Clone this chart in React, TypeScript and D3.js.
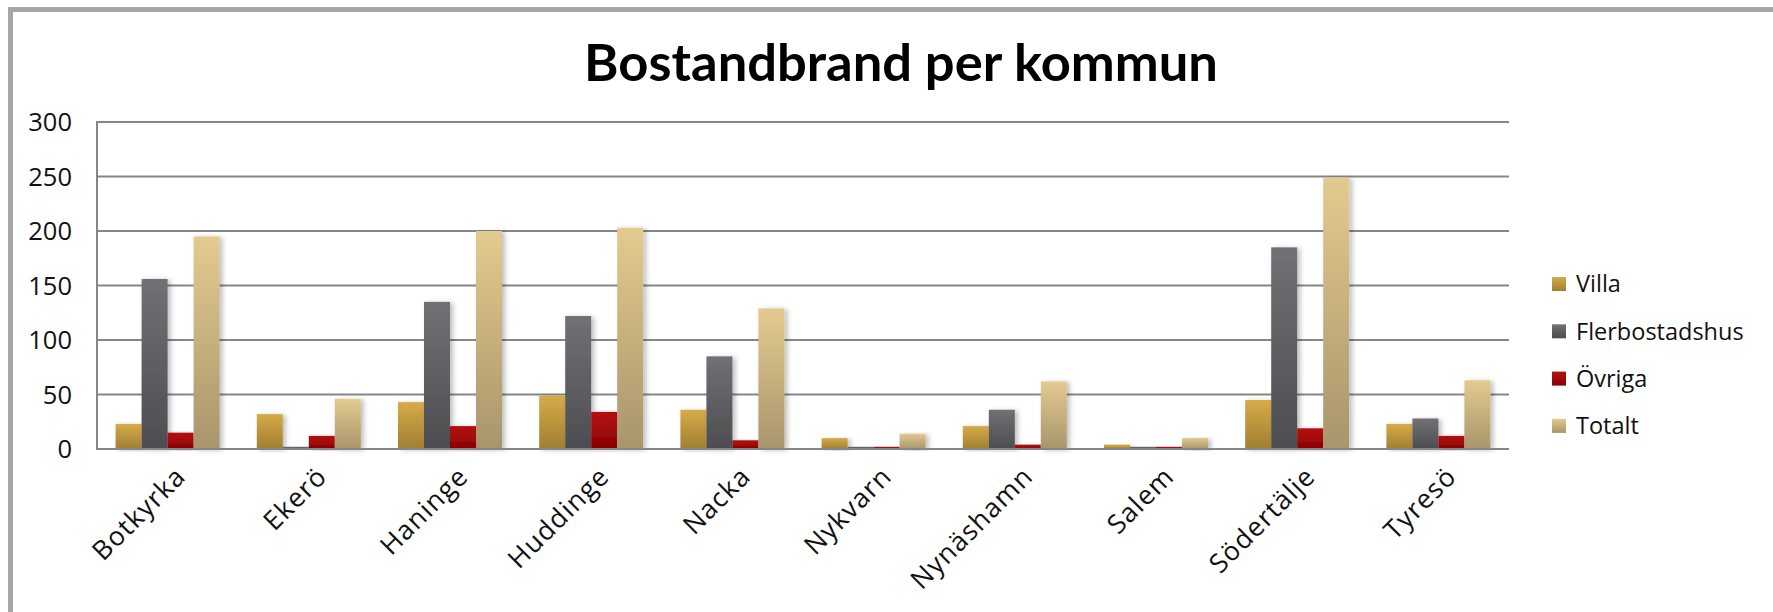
import React from "react";
import * as d3 from "d3";

const categories = ["Botkyrka", "Ekerö", "Haninge", "Huddinge", "Nacka", "Nykvarn", "Nynäshamn", "Salem", "Södertälje", "Tyresö"];
const seriesNames = ["Villa", "Flerbostadshus", "Övriga", "Totalt"];
const villa = [23, 32, 43, 49, 36, 10, 21, 4, 45, 23];
const flerbostadshus = [156, 2, 135, 122, 85, 2, 36, 2, 185, 28];
const ovriga = [15, 12, 21, 34, 8, 2, 4, 2, 19, 12];
const totalt = [195, 46, 200, 203, 129, 14, 62, 10, 249, 63];
const yTicks = [0, 50, 100, 150, 200, 250, 300];
const title = "Bostandbrand per kommun";

const seriesValues = [villa, flerbostadshus, ovriga, totalt];
const gradients = [
  ["#d6ab48", "#a07f32"],
  ["#707175", "#4c4d51"],
  ["#b81010", "#880202"],
  ["#e3ca8f", "#a8956b"],
];

const W = 1773;
const H = 612;
const plot = { left: 97, right: 1509, top: 122, bottom: 449 };
const FONT = "'Open Sans', sans-serif";

export default function App() {
  const x = d3
    .scaleBand<string>()
    .domain(categories)
    .range([plot.left, plot.right])
    .paddingInner(0.2635)
    .paddingOuter(0.13175);
  const xs = d3
    .scaleBand<string>()
    .domain(seriesNames)
    .range([0, x.bandwidth()])
    .padding(0);
  const y = d3.scaleLinear().domain([0, 300]).range([plot.bottom, plot.top]);
  const step = x.step();

  return (
    <div style={{ position: "absolute", left: 0, top: 0 }}>
      <svg width={W} height={H} viewBox={`0 0 ${W} ${H}`} style={{ display: "block", background: "#fff" }}>
        <defs>
          {gradients.map((g, i) => (
            <linearGradient key={i} id={`grad${i}`} x1="0" y1="0" x2="0" y2="1">
              <stop offset="0%" stopColor={g[0]} />
              <stop offset="100%" stopColor={g[1]} />
            </linearGradient>
          ))}
          <filter id="shadow" x="-30%" y="-10%" width="160%" height="120%">
            <feDropShadow dx="3" dy="1" stdDeviation="2.5" floodColor="#000" floodOpacity="0.25" />
          </filter>
        </defs>
        <rect x={0} y={0} width={W} height={H} fill="#fff" />
        <rect x={10.5} y={9.5} width={W + 100} height={H + 100} fill="none" stroke="#a6a6a6" strokeWidth={5} />

        <text x={901} y={81} textAnchor="middle" fontFamily="Lato, sans-serif" fontWeight={700} fontSize={52.5} fill="#000">
          {title}
        </text>

        {yTicks.map((t) => (
          <g key={t}>
            <line x1={plot.left} x2={plot.right} y1={y(t)} y2={y(t)} stroke="#868686" strokeWidth={2} />
            <text x={72} y={y(t)} dy="0.36em" textAnchor="end" fontFamily={FONT} fontSize={25.5} fill="#111">
              {t}
            </text>
          </g>
        ))}
        <line x1={plot.left} x2={plot.left} y1={plot.top - 1} y2={plot.bottom + 1} stroke="#868686" strokeWidth={2} />

        {categories.map((c, ci) => (
          <g key={c}>
            {seriesNames.map((s, si) => {
              const v = seriesValues[si][ci];
              const bx = (x(c) as number) + (xs(s) as number);
              return (
                <rect
                  key={s}
                  x={bx}
                  y={y(v)}
                  width={xs.bandwidth()}
                  height={y(0) - y(v)}
                  fill={`url(#grad${si})`}
                  filter="url(#shadow)"
                />
              );
            })}
          </g>
        ))}
        <line x1={plot.left} x2={plot.right} y1={y(0)} y2={y(0)} stroke="#868686" strokeWidth={2} />

        {categories.map((c) => {
          const cx = (x(c) as number) + x.bandwidth() / 2 + step * 0.14;
          const cy = plot.bottom + 29;
          return (
            <text
              key={c}
              x={cx}
              y={cy}
              textAnchor="end"
              transform={`rotate(-45 ${cx} ${cy})`}
              fontFamily={FONT}
              fontSize={26.5}
              letterSpacing={1.2}
              fill="#111"
            >
              {c}
            </text>
          );
        })}

        {seriesNames.map((s, i) => {
          const ly = 284 + i * 47.3;
          return (
            <g key={s}>
              <rect x={1552} y={ly - 7} width={14} height={14} fill={`url(#grad${i})`} />
              <text x={1576} y={ly} dy="0.36em" fontFamily={FONT} fontSize={23.5} fill="#111">
                {s}
              </text>
            </g>
          );
        })}
      </svg>
    </div>
  );
}
